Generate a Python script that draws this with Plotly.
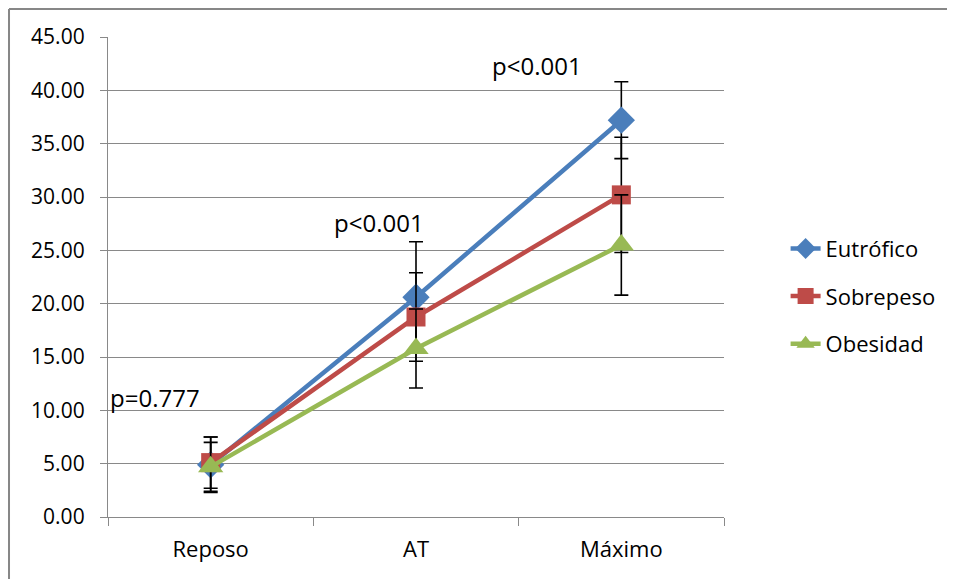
import plotly.graph_objects as go

categories = ["Reposo", "AT", "Máximo"]
series_names = ["Eutrófico", "Sobrepeso", "Obesidad"]
eutrofico = [4.9, 20.6, 37.2]
eutrofico_sd = [2.6, 5.2, 3.6]
sobrepeso = [5.1, 18.75, 30.2]
sobrepeso_sd = [2.4, 4.15, 5.4]
obesidad = [4.7, 15.8, 25.5]
obesidad_sd = [2.3, 3.7, 4.7]
y_ticks = [0, 5, 10, 15, 20, 25, 30, 35, 40, 45]
p_labels = ["p=0.777", "p<0.001", "p<0.001"]

FONT = "Open Sans"
colors = ["#4A7EBB", "#BE4B48", "#98B954"]
symbols = ["diamond", "square", "triangle-up"]
sizes = [21, 19, 22]
values = [eutrofico, sobrepeso, obesidad]
sds = [eutrofico_sd, sobrepeso_sd, obesidad_sd]

fig = go.Figure()
for name, v, sd, c, s, sz in zip(series_names, values, sds, colors, symbols, sizes):
    fig.add_trace(go.Scatter(
        x=categories, y=v, name=name, mode="lines+markers", legendgroup=name,
        line=dict(color=c, width=4.5),
        marker=dict(symbol=s, size=sz, color=c),
        error_y=dict(type="data", array=sd, visible=True, color="black",
                     thickness=1.6, width=7),
    ))

# p-value annotations
ann_pos = [(-0.5, 11.2, "left"), (0.82, 27.6, "center"), (1.59, 42.3, "center")]
for (ax, ay, anc), txt in zip(ann_pos, p_labels):
    fig.add_annotation(x=ax, y=ay, xref="x", yref="y", text=txt, showarrow=False,
                       xanchor=anc, yanchor="middle",
                       font=dict(family=FONT, size=24, color="black"))

# outer chart border (cropped on right and bottom)
border = dict(color="#878787", width=2)
fig.add_shape(type="line", xref="paper", yref="paper", x0=-0.1607, x1=1.6,
              y0=1.0583, y1=1.0583, line=border)
fig.add_shape(type="line", xref="paper", yref="paper", x0=-0.1607, x1=-0.1607,
              y0=1.0583, y1=-0.2, line=border)

fig.update_layout(
    width=955, height=579,
    margin=dict(l=100, r=239, t=29, b=70),
    paper_bgcolor="white", plot_bgcolor="white",
    font=dict(family=FONT, size=22, color="black"),
    showlegend=True,
    legend=dict(x=1.10, y=0.46, xanchor="left", yanchor="middle",
                font=dict(family=FONT, size=22), tracegroupgap=16,
                bgcolor="rgba(0,0,0,0)"),
    xaxis=dict(type="category", range=[-0.5, 2.5], showgrid=False,
               showline=True, linecolor="#898989", linewidth=1.3,
               ticks="outside", tickson="boundaries", ticklen=8,
               tickcolor="#898989", tickwidth=1.3, ticklabelstandoff=12,
               tickfont=dict(family=FONT, size=22), zeroline=False),
    yaxis=dict(range=[0, 45], tickvals=y_ticks,
               ticktext=[f"{t:.2f}" for t in y_ticks],
               showgrid=True, gridcolor="#898989", gridwidth=1.3,
               showline=True, linecolor="#898989", linewidth=1.3,
               ticks="outside", ticklen=7, tickcolor="#898989", tickwidth=1.3,
               ticklabelstandoff=11,
               tickfont=dict(family=FONT, size=21), zeroline=False),
)

fig.write_html("out.html")
